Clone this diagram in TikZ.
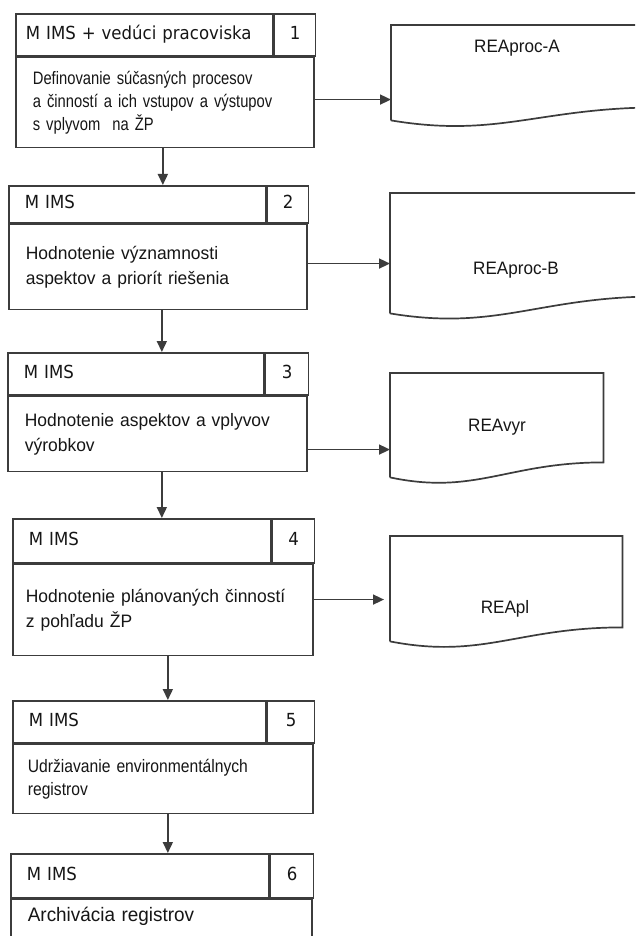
\documentclass[tikz,border=0pt]{standalone}
\usepackage{fontspec}
\setmainfont{Liberation Sans}
\newfontfamily\hdfont[FakeStretch=0.92]{DejaVu Sans}
\newfontfamily\bodyfont[FakeStretch=0.97]{Liberation Sans}
\newfontfamily\narrowfont[FakeStretch=0.82]{Liberation Sans}
\newfontfamily\semifont[FakeStretch=0.87]{Liberation Sans}
\newfontfamily\docfont[FakeStretch=0.95]{Liberation Sans}
\usetikzlibrary{arrows.meta,calc}
\definecolor{Ink}{RGB}{60,60,60}
\definecolor{InkText}{RGB}{22,22,22}
\tikzset{
  hdr/.style={draw=Ink,line width=1.7pt,anchor=north west,align=left,text=InkText,font=\hdfont\fontsize{18}{21}\selectfont,inner xsep=16pt,inner ysep=0pt,text height=13pt,text depth=4pt},
  stepnum/.style={hdr,align=center,inner xsep=0pt},
  stepbody/.style={draw=Ink,line width=1.7pt,anchor=north west,align=left,text=InkText,font=\bodyfont\fontsize{18}{25}\selectfont,inner xsep=17pt,inner ysep=0pt},
  bodyn/.style={stepbody,font=\narrowfont\fontsize{18}{23}\selectfont},
  docbox/.style={anchor=north west,inner sep=0pt},
  doclabel/.style={text=InkText,font=\docfont\fontsize{18}{22}\selectfont,inner sep=1pt},
  docline/.style={draw=Ink,line width=1.7pt,line join=miter},
  flow/.style={-{Triangle[length=11pt,width=10pt]},line width=1.6pt,draw=Ink}
}
% document outline: node name, rise of the right end
\newcommand\docoutline[2]{%
  \draw[docline] (#1.south west) -- (#1.north west) -- (#1.north east) -- ([yshift=#2pt]#1.south east)
    .. controls ($(#1.south west)!0.55!(#1.south east)+(0,-#2)$) and ($(#1.south west)!0.4!(#1.south east)+(0,18)$) .. (#1.south west);}

\begin{document}
\begin{tikzpicture}[x=1pt,y=-1pt]
  \useasboundingbox (0,0) rectangle (635,936);
  \clip (0,0) rectangle (635,936);
  \fill[white] (0,0) rectangle (635,936);

  % step 1
  \node[hdr,inner xsep=10pt,text width=237pt,minimum height=42pt] (h1) at (15,13) {M IMS + vedúci pracoviska};
  \node[stepnum,minimum width=41pt,minimum height=42pt] (n1) at (h1.north east) {1};
  \node[bodyn,text width=264pt,minimum height=90pt] (b1) at (h1.south west) {Definovanie súčasných procesov\\a činností a ich vstupov a výstupov\\s vplyvom~ na ŽP};
  % step 2
  \node[hdr,text width=225pt,minimum height=37pt] (h2) at (8,185) {M IMS};
  \node[stepnum,minimum width=41pt,minimum height=37pt] (n2) at (h2.north east) {2};
  \node[stepbody,text width=264pt,minimum height=85pt] (b2) at (h2.south west) {Hodnotenie významnosti\\aspektov a priorít riešenia};
  % step 3
  \node[hdr,text width=224pt,minimum height=42pt] (h3) at (7,352) {M IMS};
  \node[stepnum,minimum width=43pt,minimum height=42pt] (n3) at (h3.north east) {3};
  \node[stepbody,text width=265pt,minimum height=75pt] (b3) at (h3.south west) {Hodnotenie aspektov a vplyvov\\výrobkov};
  % step 4
  \node[hdr,text width=226pt,minimum height=44pt] (h4) at (12,518) {M IMS};
  \node[stepnum,minimum width=42pt,minimum height=44pt] (n4) at (h4.north east) {4};
  \node[stepbody,inner xsep=13pt,text width=274pt,minimum height=91pt] (b4) at (h4.south west) {Hodnotenie plánovaných činností\\z pohľadu ŽP};
  % step 5
  \node[hdr,text width=221pt,minimum height=42pt] (h5) at (12,700) {M IMS};
  \node[stepnum,minimum width=47pt,minimum height=42pt] (n5) at (h5.north east) {5};
  \node[bodyn,font=\semifont\fontsize{18}{23}\selectfont,inner xsep=15pt,text width=270pt,minimum height=69pt] (b5) at (h5.south west) {Udržiavanie environmentálnych\\registrov};
  % step 6
  \node[hdr,text width=226pt,minimum height=44pt] (h6) at (10,853) {M IMS};
  \node[stepnum,minimum width=43pt,minimum height=44pt] (n6) at (h6.north east) {6};
  \node[stepbody,font=\bodyfont\fontsize{19.5}{24}\selectfont,text width=267pt,text height=22pt,text depth=58pt] (b6) at (h6.south west) {Archivácia registrov};

  % registers
  \node[docbox,minimum width=269pt,minimum height=95pt] (dA) at (391,25) {};
  \docoutline{dA}{13}
  \node[doclabel] (tA) at (517,48) {REAproc-A};
  \node[docbox,minimum width=270pt,minimum height=120pt] (dB) at (390,193) {};
  \docoutline{dB}{17}
  \node[doclabel] (tB) at (516,270) {REAproc-B};
  \node[docbox,minimum width=213pt,minimum height=104pt] (dV) at (390,373) {};
  \docoutline{dV}{15}
  \node[doclabel] (tV) at (497,427) {REAvyr};
  \node[docbox,minimum width=232pt,minimum height=105pt] (dP) at (390,536) {};
  \docoutline{dP}{14}
  \node[doclabel] (tP) at (505,609) {REApl};

  % flow down
  \draw[flow] ($(b1.south)+(-2,0)$) -- ($(b1.south |- h2.north)+(-2,0)$);
  \draw[flow] ($(b2.south)+(4,0)$) -- ($(b2.south |- h3.north)+(4,0)$);
  \draw[flow] ($(b3.south)+(4.5,0)$) -- ($(b3.south |- h4.north)+(4.5,0)$);
  \draw[flow] ($(b4.south)+(5,0)$) -- ($(b4.south |- h5.north)+(5,0)$);
  \draw[flow] ($(b5.south)+(5,0)$) -- ($(b5.south |- h6.north)+(5,0)$);
  % outputs
  \draw[flow] ($(b1.east)+(0,-3)$) -- ($(b1.east -| dA.west)+(0,-3)$);
  \draw[flow] ($(b2.east)+(0,-3.5)$) -- ($(b2.east -| dB.west)+(0,-3.5)$);
  \draw[flow] ($(b3.east)+(0,15.5)$) -- ($(b3.east -| dV.west)+(0,15.5)$);
  \draw[flow,shorten >=6pt] ($(b4.east)+(0,-10.5)$) -- ($(b4.east -| dP.west)+(0,-10.5)$);
\end{tikzpicture}
\end{document}
